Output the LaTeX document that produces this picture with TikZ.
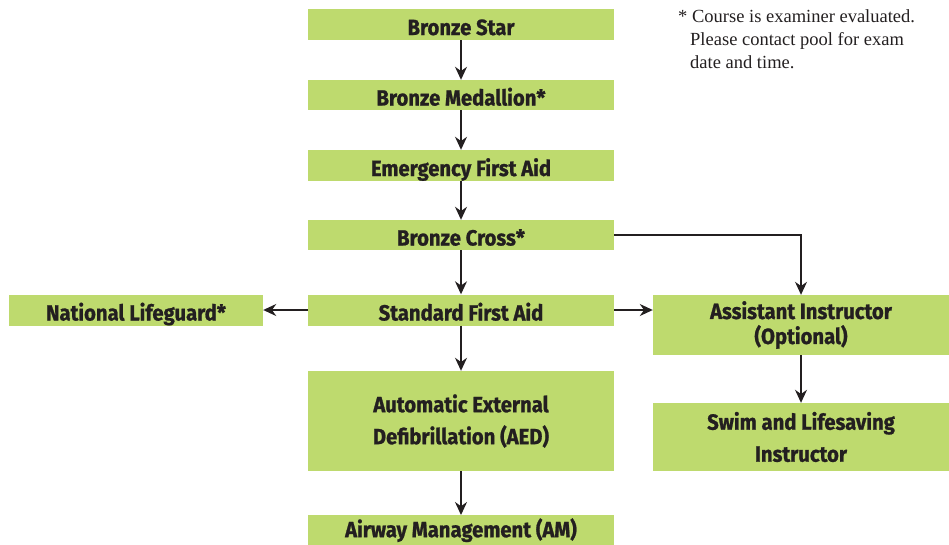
\documentclass[tikz,border=0pt]{standalone}
\usepackage{fontspec}
\setmainfont{Liberation Serif}
\newfontfamily\boxfont[FakeStretch=0.92,FakeBold=1]{Fira Sans Bold}
\usetikzlibrary{arrows.meta}
\definecolor{boxgreen}{RGB}{190,218,110}
\definecolor{txt}{RGB}{35,31,32}
\begin{document}
\begin{tikzpicture}[x=1pt,y=-1pt,
  gbox/.style={fill=boxgreen,draw=none,inner sep=0pt,align=center,
    font=\boxfont\fontsize{22}{32}\selectfont,text=txt},
  onebox/.style={gbox,minimum width=306pt,text height=21pt,text depth=0pt},
  conn/.style={draw=txt,line width=1.6pt,-{Stealth[length=13pt,width=12pt]}}]
\useasboundingbox (0,0) rectangle (949,544);
\node[onebox,minimum height=31pt] (bs) at (461,24.5) {Bronze Star};
\node[onebox,minimum height=30pt] (bm) at (461,95) {Bronze Medallion*};
\node[onebox,minimum height=31pt] (efa) at (461,165.5) {Emergency First Aid};
\node[onebox,minimum height=30pt] (bc) at (461,235) {Bronze Cross*};
\node[onebox,minimum height=31pt] (sfa) at (461,310) {Standard First Aid};
\node[onebox,minimum width=254pt,minimum height=31pt] (nl) at (136,310) {National Lifeguard*};
\node[gbox,minimum width=306pt,minimum height=100pt] (aed) at (461,421) {Automatic External\\Defibrillation (AED)};
\node[gbox,minimum width=306pt,minimum height=30pt,anchor=north] (am) at (461,515) {Airway Management (AM)};
\node[gbox,minimum width=296pt,minimum height=60pt] (ai) at (801,325) {Assistant Instructor\\[-7pt](Optional)};
\node[gbox,minimum width=296pt,minimum height=68pt] (sli) at (801,437) {Swim and Lifesaving\\Instructor};
\node[anchor=north west,align=left,font=\fontsize{18.5}{23}\selectfont,text=txt,inner sep=0pt] (note) at (678,9)
  {* Course is examiner evaluated.\\\hspace*{12pt}Please contact pool for exam\\\hspace*{12pt}date and time.};
\draw[conn] (bs) -- (bm);
\draw[conn] (bm) -- (efa);
\draw[conn] (efa) -- (bc);
\draw[conn] (bc) -- (sfa);
\draw[conn] (sfa) -- (aed);
\draw[conn] (aed) -- (am);
\draw[conn] (sfa) -- (nl);
\draw[conn] (sfa.east) -- (sfa.east -| ai.west);
\draw[conn] (ai) -- (sli);
\draw[conn,line width=1.3pt] (bc.east) -| (ai.north);
\end{tikzpicture}
\end{document}
